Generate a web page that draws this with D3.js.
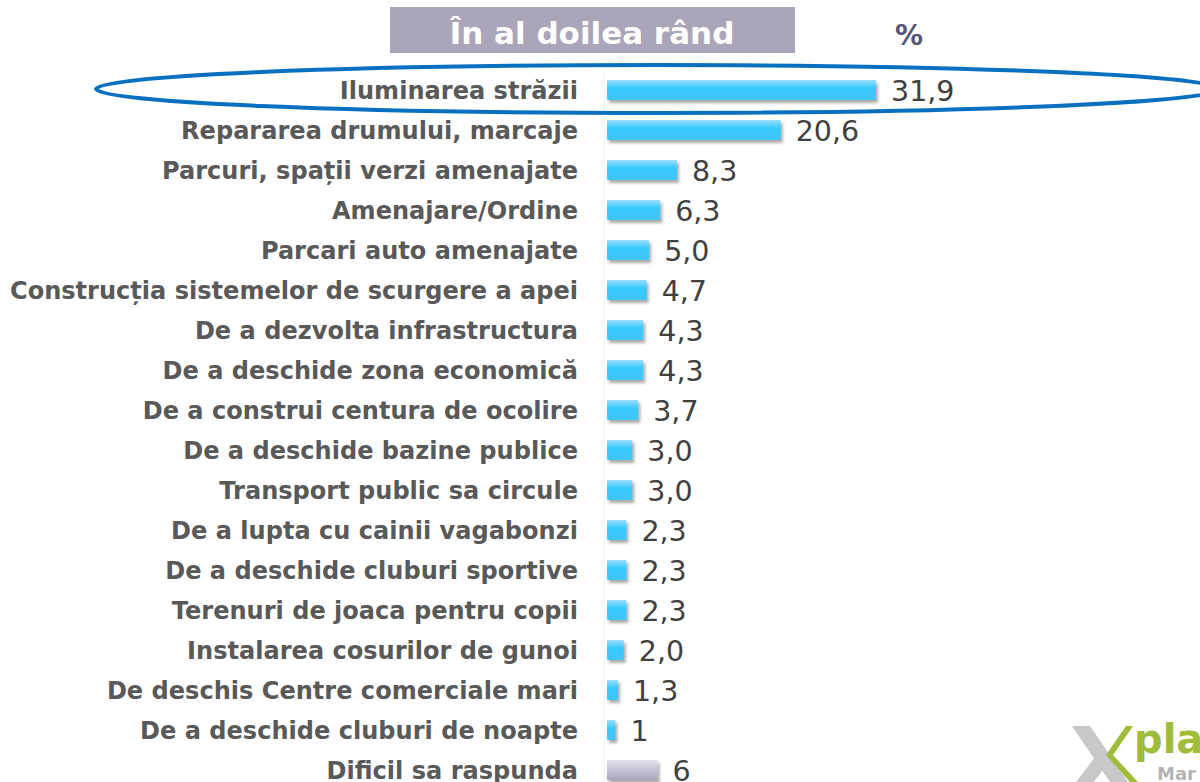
<!DOCTYPE html>
<html><head><meta charset="utf-8">
<script src="https://cdn.jsdelivr.net/npm/d3@7"></script>
<style>body{margin:0;background:#fff;}svg{display:block;}</style>
</head><body>
<svg id="c" width="1200" height="782"></svg>
<script>
const categories = [
  "Iluminarea străzii",
  "Repararea drumului, marcaje",
  "Parcuri, spații verzi amenajate",
  "Amenajare/Ordine",
  "Parcari auto amenajate",
  "Construcția sistemelor de scurgere a apei",
  "De a dezvolta infrastructura",
  "De a deschide zona economică",
  "De a construi centura de ocolire",
  "De a deschide bazine publice ",
  "Transport public sa circule",
  "De a lupta cu cainii vagabonzi",
  "De a deschide cluburi sportive",
  "Terenuri de joaca pentru copii",
  "Instalarea cosurilor de gunoi",
  "De deschis Centre comerciale mari",
  "De a deschide cluburi de noapte",
  "Dificil sa raspunda"
];
const values = [31.9, 20.6, 8.3, 6.3, 5.0, 4.7, 4.3, 4.3, 3.7, 3.0, 3.0, 2.3, 2.3, 2.3, 2.0, 1.3, 1, 6];
const valueLabels = ["31,9","20,6","8,3","6,3","5,0","4,7","4,3","4,3","3,7","3,0","3,0","2,3","2,3","2,3","2,0","1,3","1","6"];
const title = "În al doilea rând";
const unit = "%";

const svg = d3.select("#c");
const defs = svg.append("defs");
const gb = defs.append("linearGradient").attr("id","gBlue").attr("x1",0).attr("y1",0).attr("x2",0).attr("y2",1);
gb.append("stop").attr("offset","0%").attr("stop-color","#9fdcff");
gb.append("stop").attr("offset","40%").attr("stop-color","#38caff");
gb.append("stop").attr("offset","100%").attr("stop-color","#41c5f5");
const gg = defs.append("linearGradient").attr("id","gGray").attr("x1",0).attr("y1",0).attr("x2",0).attr("y2",1);
gg.append("stop").attr("offset","0%").attr("stop-color","#e2e1ea");
gg.append("stop").attr("offset","100%").attr("stop-color","#a8a5bb");
const f = defs.append("filter").attr("id","sh").attr("x","-20%").attr("y","-40%").attr("width","160%").attr("height","200%");
f.append("feDropShadow").attr("dx",2).attr("dy",3).attr("stdDeviation",1.8).attr("flood-color","#666").attr("flood-opacity",0.55);

const x0 = 607;
const x = d3.scaleLinear().domain([0, 31.9]).range([x0, 876]);
const y = d3.scaleBand().domain(categories).range([70, 790]).paddingInner(0.5).paddingOuter(0.25);

// faint axis line
svg.append("line").attr("x1",604).attr("x2",604).attr("y1",72).attr("y2",782).attr("stroke","#f0f0f0").attr("stroke-width",1);

// bars
svg.append("g").selectAll("rect").data(categories).join("rect")
  .attr("x", x(0))
  .attr("y", d => y(d))
  .attr("width", (d,i) => x(values[i]) - x(0))
  .attr("height", y.bandwidth())
  .attr("fill", (d,i) => i === categories.length-1 ? "url(#gGray)" : "url(#gBlue)")
  .attr("filter","url(#sh)");

// category labels
svg.append("g").attr("class","cat").selectAll("text").data(categories).join("text")
  .attr("x", 578)
  .attr("y", d => y(d) + y.bandwidth()/2)
  .attr("dy","0.36em")
  .attr("text-anchor","end")
  .attr("font-family","DejaVu Sans")
  .attr("font-weight","bold")
  .attr("font-size", 24)
  .attr("fill","#595959")
  .text(d => d);

// value labels
svg.append("g").selectAll("text").data(categories).join("text")
  .attr("x", (d,i) => x(values[i]) + 15)
  .attr("y", d => y(d) + y.bandwidth()/2)
  .attr("dy","0.37em")
  .attr("font-family","DejaVu Sans")
  .attr("font-size", 28.5)
  .attr("fill","#404040")
  .text((d,i) => valueLabels[i]);

// fit labels so the longest spans the reference width
const maxW = 568;
let longest = 0;
svg.selectAll("g.cat text").each(function(){ longest = Math.max(longest, this.getComputedTextLength()); });
const k = maxW / longest;
svg.selectAll("g.cat text").each(function(){
  const w = this.getComputedTextLength();
  d3.select(this).attr("textLength", w * k).attr("lengthAdjust","spacingAndGlyphs");
});

// title box
svg.append("rect").attr("x",390).attr("y",7).attr("width",405).attr("height",46).attr("fill","#aba5ba");
svg.append("text").attr("x",592).attr("y",44).attr("text-anchor","middle")
  .attr("font-family","DejaVu Sans").attr("font-weight","bold").attr("font-size",31).attr("fill","#fff").text(title);
svg.append("text").attr("x",909).attr("y",45).attr("text-anchor","middle")
  .attr("font-family","DejaVu Sans").attr("font-weight","bold").attr("font-size",28).attr("fill","#57567a").text(unit);

// highlight ellipse
svg.append("ellipse").attr("cx",658).attr("cy",89).attr("rx",562).attr("ry",24)
  .attr("fill","none").attr("stroke","#0870bf").attr("stroke-width",4);

// logo
const lg = svg.append("g");
lg.append("path").attr("d","M1072,726 L1090,726 L1128,782 L1110,782 Z").attr("fill","#c8c8ca");
lg.append("path").attr("d","M1076,782 L1096,756 L1104,768 L1094,782 Z").attr("fill","#c8c8ca");
lg.append("path").attr("d","M1126,726 L1133,726 L1113,755 L1138,782 L1130,782 L1106,755 Z").attr("fill","#9fbc3a");
lg.append("text").attr("x",1134).attr("y",753).attr("font-family","DejaVu Sans").attr("font-weight","bold")
  .attr("font-size",40).attr("fill","#9fbc3a").text("pla");
lg.append("text").attr("x",1157).attr("y",780).attr("font-family","DejaVu Sans").attr("font-weight","bold")
  .attr("font-size",18).attr("fill","#b3b3b3").text("Mar");
</script>
</body></html>
